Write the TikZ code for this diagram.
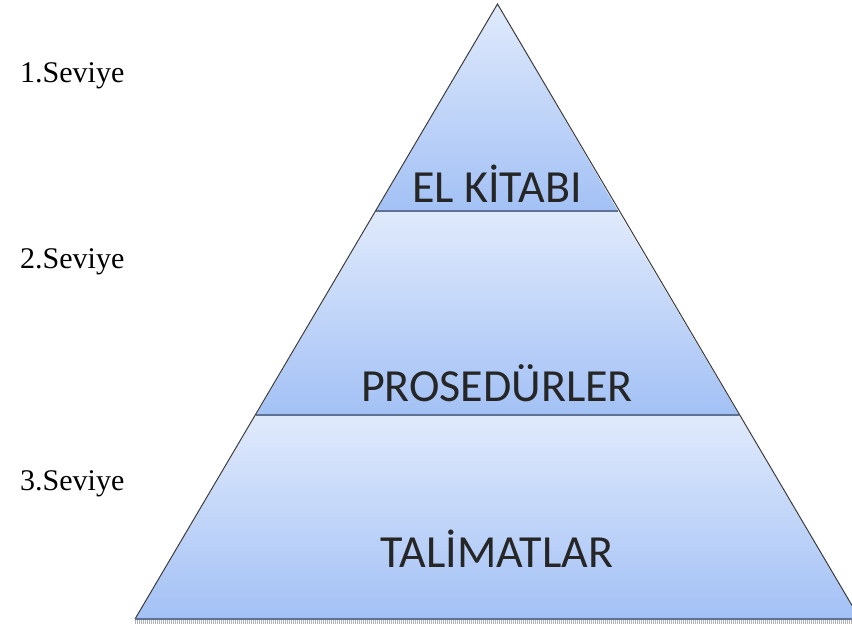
\documentclass[tikz,border=0pt]{standalone}
\usepackage{fontspec}
\setmainfont{Liberation Serif}
\newfontfamily\calib{Carlito}
\definecolor{segtop}{HTML}{E0EAFC}
\definecolor{segbot}{HTML}{A3C1F5}
\definecolor{edgecol}{HTML}{3C3C3C}
\definecolor{divcol}{HTML}{5E7293}
\tikzset{
  seg/.style={top color=segtop, bottom color=segbot, draw=none},
  lvl/.style={anchor=west, font=\fontsize{30}{32}\selectfont, inner sep=0pt},
  ptxt/.style={font=\calib\fontsize{46}{48}\selectfont, inner sep=0pt, text=black!85},
  divline/.style={draw=divcol, line width=1.6pt},
  sideline/.style={draw=edgecol, line width=1pt}
}
\begin{document}
\begin{tikzpicture}[x=1pt,y=-1pt]
\useasboundingbox (0,0) rectangle (852,627);
\begin{scope}
\clip (0,0) rectangle (852,627);
\coordinate (A) at (497.5,4);
\coordinate (L1) at (376,211);
\coordinate (R1) at (618,211);
\coordinate (L2) at (256,415);
\coordinate (R2) at (739,415);
\coordinate (BL) at (135,619);
\coordinate (BR) at (860,619);
% segments
\path[seg] (A) -- (R1) -- (L1) -- cycle;
\path[seg] (L1) -- (R1) -- (R2) -- (L2) -- cycle;
\path[seg] (L2) -- (R2) -- (BR) -- (BL) -- cycle;
% texts
\begin{scope}
\clip (A) -- (R1) -- (L1) -- cycle;
\node[ptxt] (t1) at (497,184) {EL KİTABI};
\end{scope}
\node[ptxt] (t2) at (497,383) {PROSEDÜRLER};
\node[ptxt] (t3) at (497,549) {TALİMATLAR};
% lines
\draw[divline] (L1) -- (R1);
\draw[divline] (L2) -- (R2);
\draw[sideline] (BL) -- (A) -- (BR);
\draw[draw=divcol, line width=1.2pt] (BL) -- (BR);
\draw[draw=gray!60, line width=4pt, dash pattern=on 1pt off 1pt] ([yshift=-3pt]BL) -- ([yshift=-3pt]BR);
\end{scope}
% level labels
\node[lvl] (s1) at (20,76) {1.Seviye};
\node[lvl] (s2) at (20,262) {2.Seviye};
\node[lvl] (s3) at (20,484) {3.Seviye};
\end{tikzpicture}
\end{document}
